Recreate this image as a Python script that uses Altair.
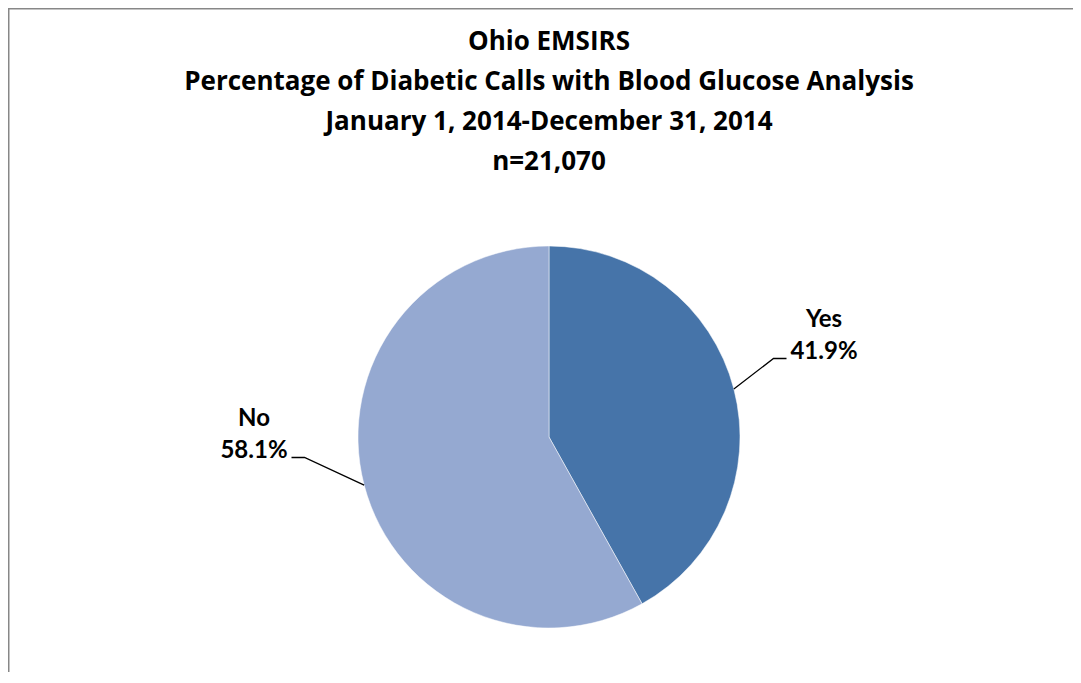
import math
import altair as alt
import pandas as pd

# ---- data ----
categories = ["Yes", "No"]
percents = [41.9, 58.1]
colors = ["#4674A9", "#95A9D1"]
title_lines = [
    "Ohio EMSIRS",
    "Percentage of Diabetic Calls with Blood Glucose Analysis",
    "January 1, 2014-December 31, 2014",
    "n=21,070",
]

# ---- layout ----
W, H = 1065, 664
CX, CY, R = 541, 429, 191
TITLE_FONT = "Open Sans"
LABEL_FONT = "Lato"
TITLE_SIZE = 26
LABEL_SIZE = 24
TITLE_BASELINE0, TITLE_STEP = 42, 40
LABEL_LINE_STEP = 32
# label block: center x offset from pie centre, baseline of percent line offset
label_layout = {"Yes": (275, -78), "No": (-295, 21)}
TAIL_END, TAIL_ELBOW = 37.5, 50.5

df = pd.DataFrame({"category": categories, "percent": percents,
                   "idx": list(range(len(categories)))})

# leader lines and label text positions derived from the values
lead_rows, text_rows = [], []
cum = 0.0
for cat, p in zip(categories, percents):
    mid = (cum + p / 2) / 100 * 2 * math.pi
    cum += p
    sx, sy = CX + R * math.sin(mid), CY - R * math.cos(mid)
    side = 1 if math.sin(mid) > 0 else -1
    ox, oy = label_layout[cat]
    lx, ly = CX + ox, CY + oy
    pts = [(sx, sy), (lx - side * TAIL_ELBOW, ly - 0.5), (lx - side * TAIL_END, ly - 0.5)]
    for k, (px, py) in enumerate(pts):
        lead_rows.append({"category": cat, "k": k, "px": px, "py": py})
    text_rows.append({"txt": cat, "px": lx, "py": ly - LABEL_LINE_STEP})
    text_rows.append({"txt": f"{p:.1f}%", "px": lx, "py": ly})

lead_df = pd.DataFrame(lead_rows)
text_df = pd.DataFrame(text_rows)
title_df = pd.DataFrame({"txt": title_lines,
                         "py": [TITLE_BASELINE0 + i * TITLE_STEP for i in range(len(title_lines))]})

one = pd.DataFrame({"a": [0]})
border_left = alt.Chart(one).mark_rule(color="#878787", strokeWidth=1.5).encode(
    x=alt.value(0.75), y=alt.value(0), y2=alt.value(H))
border_top = alt.Chart(one).mark_rule(color="#878787", strokeWidth=1.5).encode(
    y=alt.value(0.75), x=alt.value(0), x2=alt.value(W))

pie = alt.Chart(df).mark_arc(outerRadius=R, stroke="#ffffff", strokeWidth=0.5).encode(
    theta=alt.Theta("percent:Q", stack=True),
    color=alt.Color("category:N", scale=alt.Scale(domain=categories, range=colors), legend=None),
    order=alt.Order("idx:Q"),
    x=alt.value(CX),
    y=alt.value(CY),
)

leaders = alt.Chart(lead_df).mark_line(color="#000000", strokeWidth=1.3).encode(
    x=alt.X("px:Q", scale=None),
    y=alt.Y("py:Q", scale=None),
    detail="category:N",
    order="k:Q",
)

labels = alt.Chart(text_df).mark_text(
    font=LABEL_FONT, fontSize=LABEL_SIZE, fontWeight="bold", color="#000000",
    align="center", baseline="alphabetic"
).encode(x=alt.X("px:Q", scale=None), y=alt.Y("py:Q", scale=None), text="txt:N")

titles = alt.Chart(title_df).mark_text(
    font=TITLE_FONT, fontSize=TITLE_SIZE, fontWeight="bold", color="#000000",
    align="center", baseline="alphabetic"
).encode(x=alt.value(CX), y=alt.Y("py:Q", scale=None), text="txt:N")

chart = alt.layer(border_left, border_top, pie, leaders, labels, titles).properties(
    width=W, height=H, padding=0, autosize=alt.AutoSizeParams(type="none")
).configure_view(stroke=None).configure(background="#ffffff")

chart.save("out.html", embed_options={"renderer": "svg", "actions": False})
